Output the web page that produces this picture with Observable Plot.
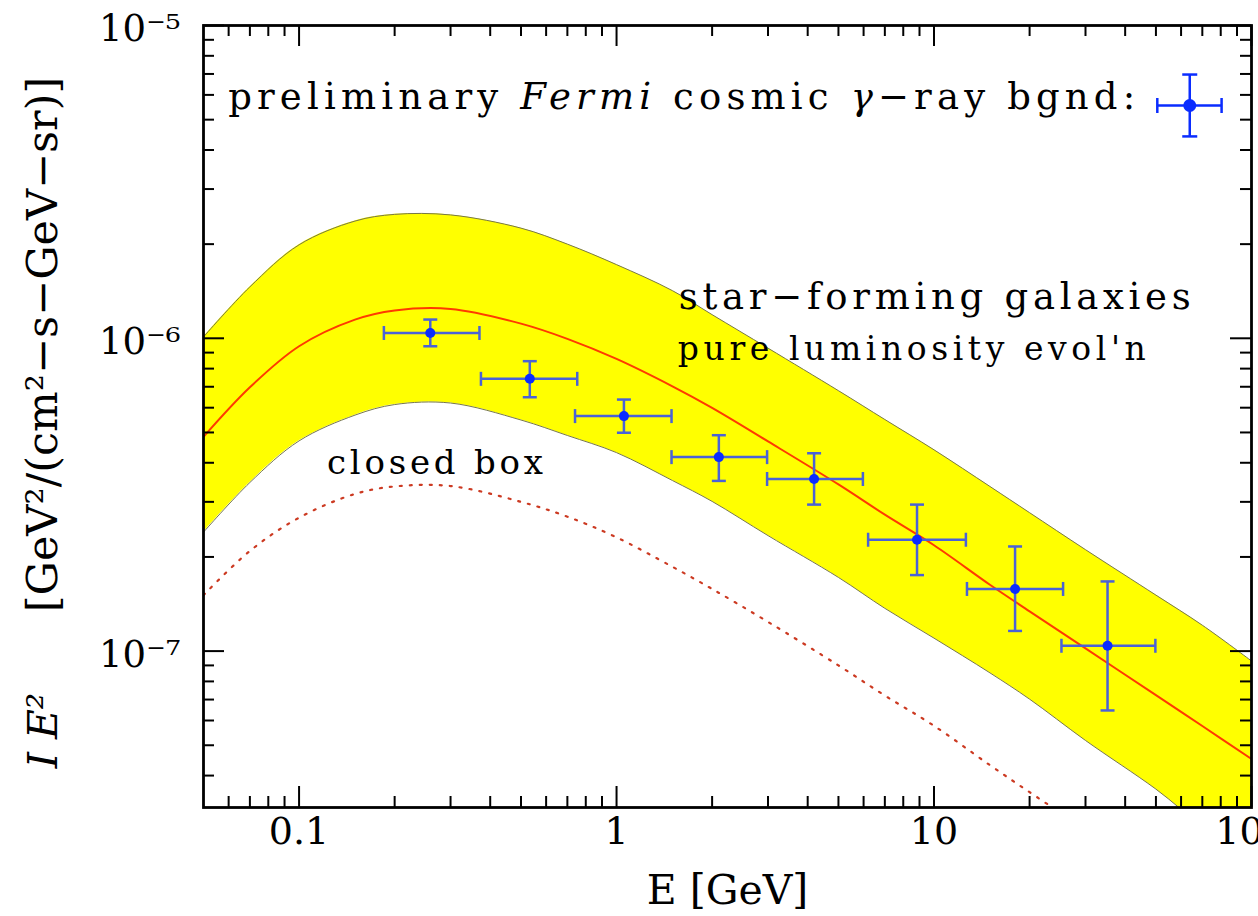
<!DOCTYPE html>
<html>
<head>
<meta charset="utf-8">
<script src="https://cdn.jsdelivr.net/npm/d3@7"></script>
<script src="https://cdn.jsdelivr.net/npm/@observablehq/plot@0.6"></script>
<style>
  html, body { margin: 0; padding: 0; background: #ffffff; }
  #chart { width: 1258px; height: 916px; overflow: hidden; }
</style>
</head>
<body>
<div id="chart"></div>
<script>
// Energy grid (GeV) on which the star-forming galaxy curves are tabulated
const curveE = [0.05, 0.07, 0.1, 0.15, 0.2, 0.3, 0.5, 0.7, 1, 1.5, 2, 3, 5, 7, 10, 15, 20, 30, 50, 70, 100];
// Pure luminosity evolution: upper edge, central model, lower edge  [GeV^2/(cm^2 s GeV sr)]
const sfgUpper = [1.01e-6, 1.46e-6, 1.99e-6, 2.37e-6, 2.49e-6, 2.48e-6, 2.25e-6, 2.0e-6, 1.72e-6, 1.42e-6, 1.19e-6, 9.3e-7, 6.8e-7, 5.5e-7, 4.4e-7, 3.36e-7, 2.77e-7, 2.11e-7, 1.51e-7, 1.21e-7, 9.3e-8];
const sfgModel = [4.84e-7, 6.97e-7, 9.43e-7, 1.147e-6, 1.227e-6, 1.241e-6, 1.114e-6, 9.96e-7, 8.59e-7, 7.02e-7, 5.99e-7, 4.68e-7, 3.41e-7, 2.73e-7, 2.18e-7, 1.63e-7, 1.34e-7, 1.02e-7, 7.23e-8, 5.76e-8, 4.52e-8];
const sfgLower = [2.40e-7, 3.46e-7, 4.70e-7, 5.68e-7, 6.14e-7, 6.21e-7, 5.48e-7, 4.89e-7, 4.31e-7, 3.51e-7, 3.01e-7, 2.34e-7, 1.72e-7, 1.37e-7, 1.10e-7, 8.52e-8, 7.02e-8, 5.18e-8, 3.62e-8, 2.77e-8, 2.27e-8];
// Closed-box model
const closedBoxE = [0.05, 0.07, 0.1, 0.15, 0.2, 0.3, 0.5, 0.7, 1, 1.5, 2, 3, 5, 7, 10, 15, 20, 30];
const closedBox = [1.51e-7, 2.09e-7, 2.67e-7, 3.18e-7, 3.36e-7, 3.37e-7, 3.0e-7, 2.69e-7, 2.31e-7, 1.86e-7, 1.58e-7, 1.24e-7, 9.0e-8, 7.21e-8, 5.77e-8, 4.32e-8, 3.54e-8, 2.69e-8];

// Preliminary Fermi extragalactic background: bin centre, bin edges, intensity and its errors
const fermiE   = [0.259, 0.533, 1.055, 2.10, 4.19, 8.84, 18.0, 35.2];
const fermiElo = [0.185, 0.374, 0.74, 1.49, 2.98, 6.2, 12.7, 25.2];
const fermiEhi = [0.370, 0.752, 1.49, 2.98, 5.97, 12.6, 25.5, 49.8];
const fermiI   = [1.04e-6, 7.42e-7, 5.64e-7, 4.17e-7, 3.55e-7, 2.27e-7, 1.58e-7, 1.04e-7];
const fermiIlo = [9.43e-7, 6.48e-7, 4.99e-7, 3.50e-7, 2.94e-7, 1.75e-7, 1.16e-7, 6.46e-8];
const fermiIhi = [1.148e-6, 8.45e-7, 6.37e-7, 4.90e-7, 4.29e-7, 2.94e-7, 2.16e-7, 1.67e-7];

// Key symbol next to the data description
const keyE = [63.9], keyElo = [50.5], keyEhi = [80.5];
const keyI = [5.55e-6], keyIlo = [4.42e-6], keyIhi = [6.97e-6];

// Axis ticks
const xMajor = [0.1, 1, 10, 100];
const xMinor = [0.06, 0.07, 0.08, 0.09, 0.2, 0.3, 0.4, 0.5, 0.6, 0.7, 0.8, 0.9, 2, 3, 4, 5, 6, 7, 8, 9, 20, 30, 40, 50, 60, 70, 80, 90];
const yMajor = [1e-7, 1e-6, 1e-5];
const yMinor = [4e-8, 5e-8, 6e-8, 7e-8, 8e-8, 9e-8, 2e-7, 3e-7, 4e-7, 5e-7, 6e-7, 7e-7, 8e-7, 9e-7, 2e-6, 3e-6, 4e-6, 5e-6, 6e-6, 7e-6, 8e-6, 9e-6];
const xTickLabels = ["0.1", "1", "10", "100"];
const yTickLabels = ["10\u207B\u2077", "10\u207B\u2076", "10\u207B\u2075"];

const xTitle = "E [GeV]";
const yTitleUnits = "[GeV\u00B2/(cm\u00B2\u2212s\u2212GeV\u2212sr)]";
const yTitleSymbol = "I E\u00B2";

// ---- tables for the marks
const band = curveE.map((E, i) => ({E, lo: sfgLower[i], mid: sfgModel[i], hi: sfgUpper[i]}));
const closed = closedBoxE.map((E, i) => ({E, I: closedBox[i]}));
const fermi = fermiE.map((E, i) => ({E, Elo: fermiElo[i], Ehi: fermiEhi[i], I: fermiI[i], Ilo: fermiIlo[i], Ihi: fermiIhi[i]}));
const key = keyE.map((E, i) => ({E, Elo: keyElo[i], Ehi: keyEhi[i], I: keyI[i], Ilo: keyIlo[i], Ihi: keyIhi[i]}));

// ---- layout
const W = 1258, H = 916;
const M = {top: 25, right: 7, bottom: 109, left: 203};
const plotW = W - M.left - M.right;
const plotH = H - M.top - M.bottom;

// short bar symbols for error-bar caps
const vbar = {draw(ctx, size) { const r = Math.sqrt(size / Math.PI); ctx.moveTo(0, -r); ctx.lineTo(0, r); }};
const hbar = {draw(ctx, size) { const r = Math.sqrt(size / Math.PI); ctx.moveTo(-r, 0); ctx.lineTo(r, 0); }};

function errorBars(data, {bar, dot, dotR, capR, sw}) {
  return [
    Plot.ruleY(data, {y: "I", x1: "Elo", x2: "Ehi", stroke: bar, strokeWidth: sw}),
    Plot.ruleX(data, {x: "E", y1: "Ilo", y2: "Ihi", stroke: bar, strokeWidth: sw}),
    Plot.dot(data, {x: "Elo", y: "I", symbol: vbar, r: capR, stroke: bar, strokeWidth: sw, fill: "none"}),
    Plot.dot(data, {x: "Ehi", y: "I", symbol: vbar, r: capR, stroke: bar, strokeWidth: sw, fill: "none"}),
    Plot.dot(data, {x: "E", y: "Ilo", symbol: hbar, r: capR, stroke: bar, strokeWidth: sw, fill: "none"}),
    Plot.dot(data, {x: "E", y: "Ihi", symbol: hbar, r: capR, stroke: bar, strokeWidth: sw, fill: "none"}),
    Plot.dot(data, {x: "E", y: "I", r: dotR, fill: dot, stroke: "none"})
  ];
}

const serif = "DejaVu Serif";
const tickStyle = {stroke: "black", strokeWidth: 2};
const noteStyle = {text: d => d, textAnchor: "start", fontFamily: serif, fill: "black"};

const chart = Plot.plot({
  width: W,
  height: H,
  marginTop: M.top,
  marginRight: M.right,
  marginBottom: M.bottom,
  marginLeft: M.left,
  style: {background: "white", color: "black"},
  x: {type: "log", domain: [0.05, 100], axis: null},
  y: {type: "log", domain: [Math.pow(10, -7.5), 1e-5], axis: null},
  marks: [
    // uncertainty band of the star-forming galaxy model
    Plot.areaY(band, {x: "E", y1: "lo", y2: "hi", fill: "#ffff00", curve: "catmull-rom", clip: true}),
    Plot.line(band, {x: "E", y: "hi", stroke: "#77774a", strokeWidth: 1, curve: "catmull-rom", clip: true}),
    Plot.line(band, {x: "E", y: "lo", stroke: "#77774a", strokeWidth: 1, curve: "catmull-rom", clip: true}),
    // closed-box model
    Plot.line(closed, {x: "E", y: "I", stroke: "#cc3a22", strokeWidth: 2.2, strokeDasharray: "2,8", curve: "catmull-rom", clip: true}),
    // central model
    Plot.line(band, {x: "E", y: "mid", stroke: "#ff3a00", strokeWidth: 2, curve: "catmull-rom", clip: true}),

    // Fermi data
    ...errorBars(fermi, {bar: "#4a62d6", dot: "#0a2cff", dotR: 5, capR: 7, sw: 2.5}),
    ...errorBars(key, {bar: "#0a2cff", dot: "#0a2cff", dotR: 6.5, capR: 7.5, sw: 2.5}),

    // annotations
    Plot.text(["preliminary Fermi cosmic \u03B3\u2212ray bgnd:"], {x: 0.0598, y: 5.9e-6, fontSize: 37, className: "note-fermi", ...noteStyle}),
    Plot.text(["star\u2212forming galaxies"], {x: 1.57, y: 1.35e-6, fontSize: 37, className: "note-sfg", ...noteStyle}),
    Plot.text(["pure luminosity evol'n"], {x: 1.56, y: 9.24e-7, fontSize: 33, className: "note-ple", ...noteStyle}),
    Plot.text(["closed box"], {x: 0.1224, y: 3.98e-7, fontSize: 34, className: "note-closed", ...noteStyle}),

    // inward ticks on all four sides
    Plot.tickX(xMajor, {x: d => d, insetTop: plotH - 21, ...tickStyle}),
    Plot.tickX(xMajor, {x: d => d, insetBottom: plotH - 21, ...tickStyle}),
    Plot.tickX(xMinor, {x: d => d, insetTop: plotH - 11, ...tickStyle}),
    Plot.tickX(xMinor, {x: d => d, insetBottom: plotH - 11, ...tickStyle}),
    Plot.tickY(yMajor, {y: d => d, insetRight: plotW - 21, ...tickStyle}),
    Plot.tickY(yMajor, {y: d => d, insetLeft: plotW - 21, ...tickStyle}),
    Plot.tickY(yMinor, {y: d => d, insetRight: plotW - 11, ...tickStyle}),
    Plot.tickY(yMinor, {y: d => d, insetLeft: plotW - 11, ...tickStyle}),
    Plot.frame({stroke: "black", strokeWidth: 2.8}),

    // tick labels
    Plot.text(xMajor, {x: d => d, frameAnchor: "bottom", text: (d, i) => xTickLabels[i], textAnchor: "middle", dy: 36, fontSize: 38, fontFamily: serif, fill: "black"}),
    Plot.text(yMajor, {y: d => d, frameAnchor: "left", text: (d, i) => yTickLabels[i], textAnchor: "end", dx: -23, dy: 4, fontSize: 37, fontFamily: serif, fill: "black"}),

    // axis titles
    Plot.text([xTitle], {frameAnchor: "bottom", text: d => d, textAnchor: "middle", dy: 96, fontSize: 41, fontFamily: serif, fill: "black"}),
    Plot.text([yTitleUnits], {frameAnchor: "left", text: d => d, textAnchor: "middle", rotate: -90, dx: -160, dy: -72, fontSize: 43, fontFamily: serif, fill: "black"}),
    Plot.text([yTitleSymbol], {frameAnchor: "left", text: d => d, textAnchor: "middle", rotate: -90, dx: -160, dy: 314, fontSize: 41, fontFamily: serif, fontStyle: "italic", fill: "black"})
  ]
});

// Set "Fermi" and the gamma in italic inside the data description
const note = chart.querySelector(".note-fermi text");
if (note) {
  const parts = [
    ["preliminary ", null],
    ["Fermi", "italic"],
    [" cosmic ", null],
    ["\u03B3", "italic"],
    ["\u2212ray bgnd:", null]
  ];
  note.textContent = "";
  note.style.whiteSpace = "pre";
  for (const [str, style] of parts) {
    const t = document.createElementNS("http://www.w3.org/2000/svg", "tspan");
    t.textContent = str;
    if (style) t.setAttribute("font-style", style);
    note.appendChild(t);
  }
}

// The annotation lettering is set wide, like typewriter lettering
const noteWidths = {"note-fermi": 907, "note-sfg": 512, "note-ple": 468, "note-closed": 216};
for (const [cls, w] of Object.entries(noteWidths)) {
  const t = chart.querySelector(`.${cls} text`);
  if (t) {
    t.setAttribute("textLength", w);
    t.setAttribute("lengthAdjust", "spacing");
  }
}

document.getElementById("chart").appendChild(chart);
</script>
</body>
</html>
